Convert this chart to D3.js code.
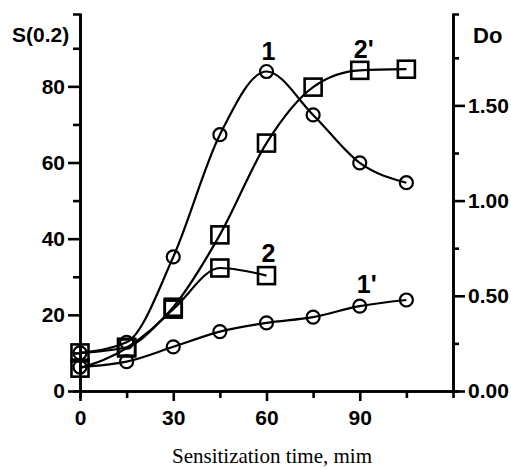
<!DOCTYPE html>
<html>
<head>
<meta charset="utf-8">
<script src="https://cdn.jsdelivr.net/npm/d3@7"></script>
<style>
  body { margin:0; background:#fff; }
  svg { display:block; }
  .tk text { font-family:"Liberation Sans", Arial, sans-serif; font-weight:bold; font-size:21px; fill:#000; }
  .tk line, .tk path { stroke:#000; stroke-width:2.6; }
</style>
</head>
<body>
<svg id="chart" width="511" height="469"></svg>
<script>
// sensitization time, min
var times = [0, 15, 30, 45, 60, 75, 90, 105];
// curve 1 : S(0.2), circles
var s1  = [10, 12.8, 35.2, 67.3, 83.9, 72.5, 59.9, 54.7];
// curve 2 : S(0.2), squares (stops at 60 min)
var s2  = [10, 11.5, 21.5, 32.3, 30.3];
// curve 1' : Do, circles
var d1p = [0.126, 0.154, 0.232, 0.312, 0.358, 0.388, 0.446, 0.478];
// curve 2' : Do, squares
var d2p = [0.12, 0.226, 0.44, 0.82, 1.302, 1.596, 1.684, 1.69];

var xMajor = [0, 30, 60, 90], xMinor = [15, 45, 75, 105];
var yMajor = [0, 20, 40, 60, 80], yMinor = [10, 30, 50, 70, 90];
var rMajor = [0, 0.5, 1.0, 1.5], rMinor = [0.25, 0.75, 1.25, 1.75];

var svg = d3.select("#chart");

var x  = d3.scaleLinear().domain([0, 120]).range([80, 453]);
var y  = d3.scaleLinear().domain([0, 99]).range([391, 14]);
var yr = d3.scaleLinear().domain([0, 1.98]).range([391, 14]);

// minor ticks first
svg.append("g").attr("class","tk").attr("transform","translate(80,0)")
   .call(d3.axisLeft(y).tickValues(yMinor).tickSize(7).tickFormat(""));
svg.append("g").attr("class","tk").attr("transform","translate(453,0)")
   .call(d3.axisRight(yr).tickValues(rMinor).tickSize(6).tickFormat(""));
svg.append("g").attr("class","tk").attr("transform","translate(0,391)")
   .call(d3.axisBottom(x).tickValues(xMinor).tickSize(7).tickFormat(""));

// major ticks
svg.append("g").attr("class","tk").attr("transform","translate(80,0)")
   .call(d3.axisLeft(y).tickValues(yMajor).tickSize(12).tickSizeOuter(0).tickPadding(3));
svg.append("g").attr("class","tk").attr("transform","translate(453,0)")
   .call(d3.axisRight(yr).tickValues(rMajor).tickSize(12).tickSizeOuter(0).tickPadding(3)
         .tickFormat(d3.format(".2f")));
svg.append("g").attr("class","tk").attr("transform","translate(0,391)")
   .call(d3.axisBottom(x).tickValues(xMajor).tickSize(10).tickSizeOuter(0).tickPadding(9));

// axis titles
svg.append("text").attr("x", 12).attr("y", 42).text("S(0.2)")
   .style("font-family","Liberation Sans, Arial").style("font-weight","bold").style("font-size","21px");
svg.append("text").attr("x", 473).attr("y", 43).text("Do")
   .style("font-family","Liberation Sans, Arial").style("font-weight","bold").style("font-size","22px");
svg.append("text").attr("x", 272).attr("y", 463).attr("text-anchor","middle")
   .text("Sensitization time, mim")
   .style("font-family","Liberation Serif, Times New Roman, serif").style("font-size","21px");

var lineL = d3.line().x(function(d,i){ return x(times[i]); }).y(function(d){ return y(d); })
              .curve(d3.curveMonotoneX);
var lineR = d3.line().x(function(d,i){ return x(times[i]); }).y(function(d){ return yr(d); })
              .curve(d3.curveMonotoneX);

function addSeries(name, vals, lineFn, sc, shape) {
  svg.append("path").attr("id", name).attr("d", lineFn(vals))
     .attr("fill","none").attr("stroke","#000").attr("stroke-width",2.2);
  var g = svg.append("g").attr("id", name+"_pts");
  vals.forEach(function(v,i){
    var cx = x(times[i]), cy = sc(v);
    if (shape == "circle") {
      g.append("circle").attr("cx",cx).attr("cy",cy).attr("r",6.5)
       .attr("fill","none").attr("stroke","#000").attr("stroke-width",2.2);
    } else {
      g.append("rect").attr("x",cx-8.5).attr("y",cy-8.5).attr("width",17).attr("height",17)
       .attr("fill","none").attr("stroke","#000").attr("stroke-width",2.6);
    }
  });
}

addSeries("c1",  s1,  lineL, y,  "circle");
addSeries("c2",  s2,  lineL, y,  "square");
addSeries("c1p", d1p, lineR, yr, "circle");
addSeries("c2p", d2p, lineR, yr, "square");

// curve labels
function lbl(t, px, py) {
  svg.append("text").attr("x",px).attr("y",py).attr("text-anchor","middle").text(t)
     .style("font-family","Liberation Sans, Arial").style("font-weight","bold").style("font-size","25px");
}
lbl("1",  x(60)+2,  y(s1[4]) - 12);
lbl("2'", x(90)+4,  yr(d2p[6]) - 12);
lbl("2",  x(60)+2,  y(s2[4]) - 14);
lbl("1'", x(90)+7,  yr(d1p[6]) - 13);
</script>
</body>
</html>
